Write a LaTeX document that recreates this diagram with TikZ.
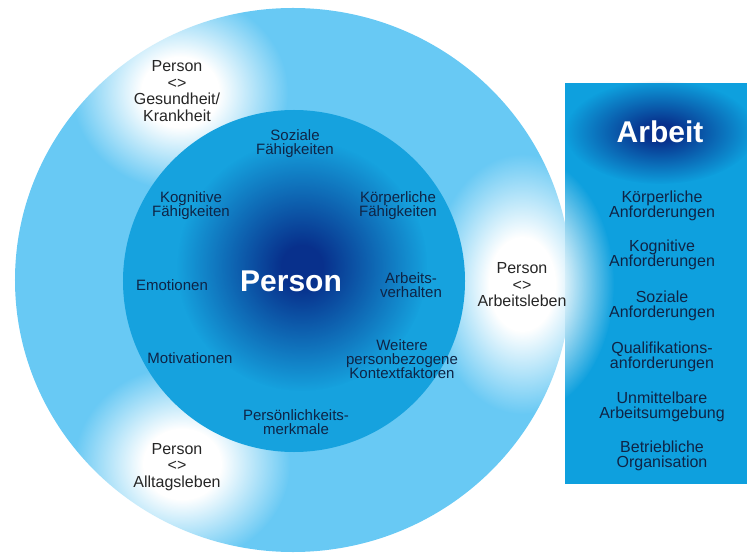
\documentclass[tikz,border=0pt]{standalone}
\usepackage{fontspec}
\setmainfont{Liberation Sans}
\usetikzlibrary{fadings}

\definecolor{ringblue}{RGB}{104,201,244}
\definecolor{coreblue}{RGB}{22,162,222}
\definecolor{deepblue}{RGB}{8,48,140}
\definecolor{boxblue}{RGB}{14,160,222}
\definecolor{navy}{RGB}{14,36,70}

\pgfdeclareradialshading{glowshade}{\pgfpointorigin}{color(0bp)=(pgftransparent!0); color(9bp)=(pgftransparent!0); color(25bp)=(pgftransparent!100); color(50bp)=(pgftransparent!100)}
\pgfdeclarefading{glow}{\pgfuseshading{glowshade}}
\pgfdeclareradialshading{softshade}{\pgfpointorigin}{color(0bp)=(pgftransparent!0); color(4bp)=(pgftransparent!0); color(25bp)=(pgftransparent!100); color(50bp)=(pgftransparent!100)}
\pgfdeclarefading{softglow}{\pgfuseshading{softshade}}

\begin{document}
\begin{tikzpicture}[x=1bp,y=-1bp,
    ringtext/.style={align=center,text=black!85,inner sep=0pt,font=\fontsize{16bp}{16.5bp}\selectfont},
    coretext/.style={align=center,text=navy,inner sep=0pt,font=\fontsize{15bp}{14bp}\selectfont},
    boxtext/.style={align=center,text=navy,inner sep=0pt,font=\fontsize{16bp}{15.5bp}\selectfont},
    bigtext/.style={text=white,inner sep=0pt,font=\bfseries\fontsize{30bp}{30bp}\selectfont}]

\useasboundingbox (0,0) rectangle (747,554);

% ring and box
\fill[ringblue] (293,280) ellipse [x radius=278bp, y radius=272bp];
\fill[boxblue] (565,83) rectangle (747,484);

% white spots in the ring
\fill[white, path fading=glow] (180,92) ellipse [x radius=108bp, y radius=98bp];
\fill[white, path fading=glow] (182,464) ellipse [x radius=108bp, y radius=98bp];
\fill[white, path fading=glow] (522,284) ellipse [x radius=92bp, y radius=130bp];

% inner circle
\fill[coreblue] (294,281) circle (171bp);
\fill[deepblue, path fading=softglow] (302,266) circle (125bp);
\fill[deepblue, path fading=softglow] (660,132) ellipse [x radius=95bp, y radius=52bp];

\node[bigtext] (person) at (291,281) {Person};
\node[bigtext] (arbeit) at (660,132) {Arbeit};

\node[ringtext] (gesund) at (177,91) {Person\\<>\\Gesundheit/\\Krankheit};
\node[ringtext] (alltag) at (177,467) {Person\\<>\\Alltagsleben};
\node[ringtext] (arbleben) at (522,285) {Person\\<>\\Arbeitsleben};

\node[coretext] (sozial) at (295,144) {Soziale\\Fähigkeiten};
\node[coretext] (kognitiv) at (191,206) {Kognitive\\Fähigkeiten};
\node[coretext] (koerper) at (398,206) {Körperliche\\Fähigkeiten};
\node[coretext] (emotion) at (172,285) {Emotionen};
\node[coretext] (verhalten) at (411,285) {Arbeits-\\verhalten};
\node[coretext] (motiv) at (190,358) {Motivationen};
\node[coretext] (kontext) at (402,359) {Weitere\\personbezogene\\Kontextfaktoren};
\node[coretext] (merkmal) at (296,422) {Persönlichkeits-\\merkmale};

\foreach \nm/\y/\txt in {kanf/206/{Körperliche\\Anforderungen},
                         koganf/255/{Kognitive\\Anforderungen},
                         sozanf/306/{Soziale\\Anforderungen},
                         qualanf/357/{Qualifikations-\\anforderungen},
                         umgeb/407/{Unmittelbare\\Arbeitsumgebung},
                         organ/456/{Betriebliche\\Organisation}}
{
    \node[boxtext] (\nm) at (662,\y) {\txt};
}

\end{tikzpicture}
\end{document}
